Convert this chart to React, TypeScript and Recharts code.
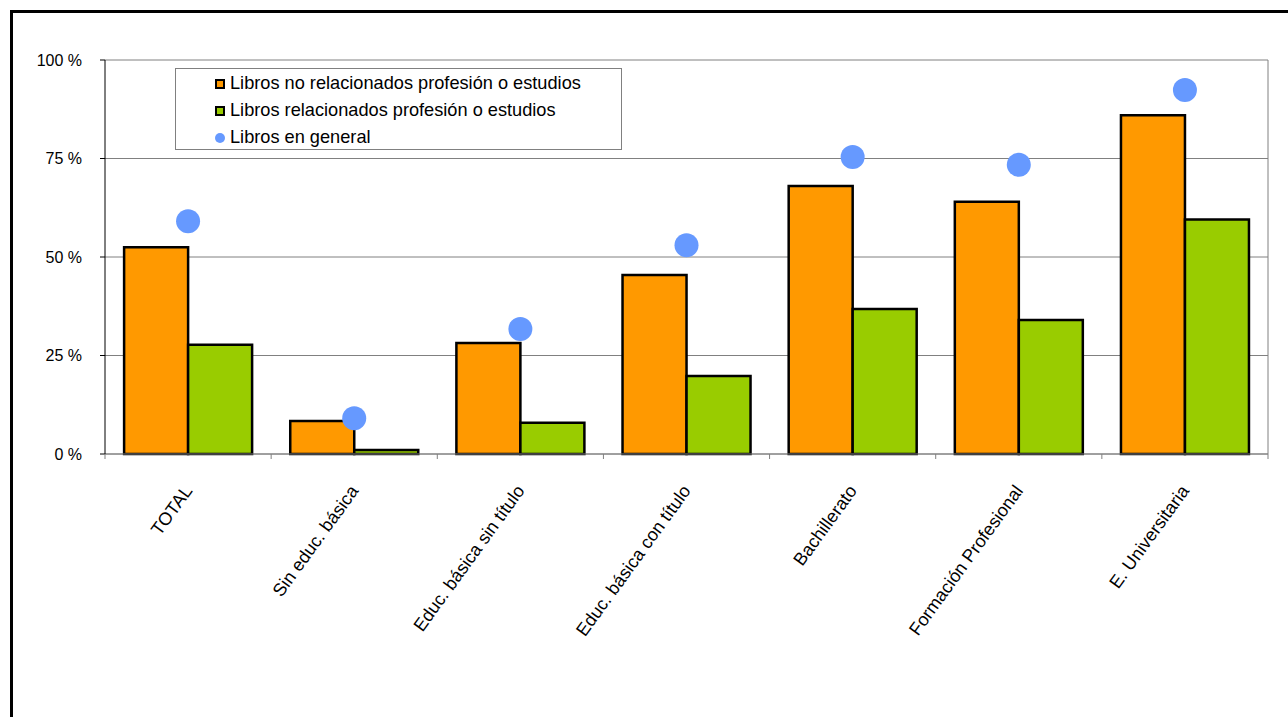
import React from 'react';
import { ComposedChart, Bar, Line, XAxis, YAxis, CartesianGrid, Legend } from 'recharts';

const categories = ['TOTAL', 'Sin educ. básica', 'Educ. básica sin título', 'Educ. básica con título', 'Bachillerato', 'Formación Profesional', 'E. Universitaria'];
const noRelacionados = [52.5, 8.4, 28.2, 45.4, 68.0, 64.0, 86.0];
const relacionados = [27.7, 1.0, 7.9, 19.8, 36.8, 34.0, 59.5];
const general = [59.1, 9.1, 31.7, 53.0, 75.4, 73.4, 92.4];
const yTicks = [0, 25, 50, 75, 100];
const seriesNames = ['Libros no relacionados profesión o estudios', 'Libros relacionados profesión o estudios', 'Libros en general'];

const data = categories.map((c, i) => ({ name: c, noRel: noRelacionados[i], rel: relacionados[i], gen: general[i] }));

const W = 1288;
const H = 717;
const M = { top: 60, right: 20, bottom: 13, left: 45 };
const Y_W = 60;
const PLOT_W = W - M.left - M.right - Y_W;
const FONT = '"Liberation Sans", Arial, sans-serif';

const XTick = (props: any) => {
  const { x, y, payload, index } = props;
  const band = PLOT_W / categories.length;
  const lx = x - band / 2;
  const rx = x + band / 2;
  const tx = x + 5;
  const ty = y + 37;
  return (
    <g>
      <line x1={lx} x2={lx} y1={y} y2={y + 5} stroke="#808080" strokeWidth={1} />
      {index === categories.length - 1 && <line x1={rx} x2={rx} y1={y} y2={y + 5} stroke="#808080" strokeWidth={1} />}
      <text x={tx} y={ty} textAnchor="end" fontSize={18} fontFamily={FONT} fill="#000" transform={`rotate(-54, ${tx}, ${ty})`}>
        {payload.value}
      </text>
    </g>
  );
};

const LegendBox = () => (
  <div style={{ width: 447, height: 82, border: '1px solid #808080', boxSizing: 'border-box', background: '#fff', paddingLeft: 39, paddingTop: 1, fontFamily: FONT, fontSize: 18.2, color: '#000' }}>
    {seriesNames.map((n, i) => (
      <div key={n} style={{ display: 'flex', alignItems: 'center', height: 27, whiteSpace: 'nowrap' }}>
        {i < 2 ? (
          <span style={{ width: 10, height: 10, boxSizing: 'border-box', border: '2px solid #000', background: i === 0 ? '#FF9900' : '#99CC00', marginRight: 5, flex: 'none' }} />
        ) : (
          <span style={{ width: 10, height: 10, borderRadius: 5, background: '#6699FF', marginRight: 5, flex: 'none' }} />
        )}
        <span>{n}</span>
      </div>
    ))}
  </div>
);

export default function App() {
  return (
    <div style={{ position: 'absolute', left: 0, top: 0, width: W, height: H, overflow: 'hidden', background: '#fff' }}>
      <div style={{ position: 'absolute', left: 10, top: 10, width: 1400, height: 900, border: '3px solid #000' }} />
      <div style={{ position: 'absolute', left: 0, top: 0 }}>
        <ComposedChart width={W} height={H} data={data} margin={M} barCategoryGap="11.5%" barGap={0}>
          <CartesianGrid
            stroke="#808080"
            vertical={true}
            verticalCoordinatesGenerator={({ offset }: any) => [offset.left + offset.width]}
          />
          <XAxis
            dataKey="name"
            height={250}
            tickLine={false}
            tickSize={0}
            tickMargin={0}
            axisLine={{ stroke: '#808080' }}
            interval={0}
            tick={<XTick />}
          />
          <YAxis
            width={Y_W}
            domain={[0, 100]}
            ticks={yTicks}
            interval={0}
            tickSize={5}
            tickMargin={18}
            axisLine={{ stroke: '#000' }}
            tickLine={{ stroke: '#000' }}
            tickFormatter={(v: number) => `${v} %`}
            tick={{ fontSize: 16, fontFamily: FONT, fill: '#000' }}
          />
          <Legend
            layout="horizontal"
            align="center"
            verticalAlign="middle"
            wrapperStyle={{ left: 175, top: 68, width: 447, height: 82 }}
            content={<LegendBox />}
          />
          <Bar dataKey="noRel" name={seriesNames[0]} fill="#FF9900" stroke="#000" strokeWidth={2.5} isAnimationActive={false} />
          <Bar dataKey="rel" name={seriesNames[1]} fill="#99CC00" stroke="#000" strokeWidth={2.5} isAnimationActive={false} />
          <Line dataKey="gen" name={seriesNames[2]} stroke="none" dot={{ r: 12, fill: '#6699FF', stroke: 'none' }} activeDot={false} isAnimationActive={false} />
        </ComposedChart>
      </div>
    </div>
  );
}
